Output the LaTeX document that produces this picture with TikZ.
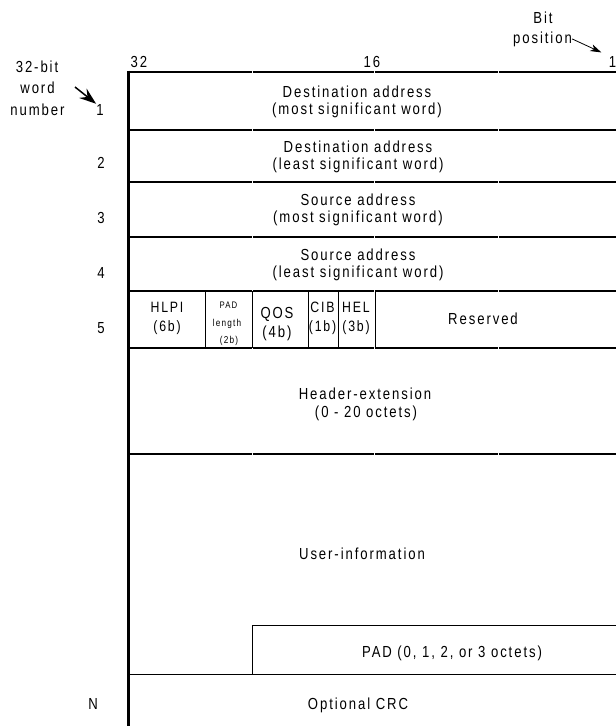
\documentclass[tikz,border=0pt]{standalone}
\usepackage{fontspec}
\setmainfont{Liberation Sans}[FakeStretch=0.82,LetterSpace=12]
\usetikzlibrary{arrows.meta}
\newcommand\fsz[1]{\fontsize{#1}{#1}\selectfont}
\begin{document}
\begin{tikzpicture}[x=1pt,y=-1pt,
  lbl/.style={inner sep=0pt, anchor=base, font=\fsz{16}},
  hl/.style={line width=2pt},
  thinl/.style={line width=1pt},
  vl/.style={line width=3pt}]
\useasboundingbox (0,0) rectangle (616,726);
% frame lines
\foreach \yy in {72,130,182,237,291,348,454}{
  \draw[hl] (127,\yy) -- (251.5,\yy) (252.5,\yy) -- (373.5,\yy)
            (374.5,\yy) -- (497.5,\yy) (498.5,\yy) -- (616,\yy);
}
\draw[vl] (128,70.5) -- (128,726);
% row 5 separators
\foreach \xx in {205,252,308,338,375}{
  \draw[thinl] (\xx,291) -- (\xx,348);
}
% PAD box
\draw[thinl] (252,674) -- (252,625) -- (616,625);
\draw[thinl] (128,674) -- (616,674);

% bit positions
\node[lbl] (b32) at (139,67) {32};
\node[lbl] (b16) at (372,67) {16};
\node[lbl] (b1) at (612.5,67) {1};
\node[lbl] (bit) at (543,23) {Bit};
\node[lbl] (pos) at (542.5,43) {position};
\draw[-{Stealth[length=11pt,width=7pt,inset=3pt]}, line width=0.8pt, shorten >=8pt] (pos.east) -- (b1.north west);

% word number labels
\node[lbl] (w1) at (37,72) {32-bit};
\node[lbl] (w2) at (37.5,93) {word};
\node[lbl] (w3) at (37.5,115) {number};
\node[lbl] (r1) at (100,115) {1};
\node[lbl] (r2) at (101,168) {2};
\node[lbl] (r3) at (101,223) {3};
\node[lbl] (r4) at (101,278) {4};
\node[lbl] (r5) at (101,333) {5};
\node[lbl] (rN) at (93,709) {N};
\coordinate (wtail) at (75,87);
\draw[-{Stealth[length=17pt,width=12pt,inset=6pt]}, line width=1.5pt] (wtail) -- (r1.north west);

% rows 1-4
\node[lbl] (d1a) at (357,97) {Destination address};
\node[lbl] (d1b) at (357,114) {(most significant word)};
\node[lbl] (d2a) at (358,152) {Destination address};
\node[lbl] (d2b) at (358,169) {(least significant word)};
\node[lbl] (s1a) at (358,205.5) {Source address};
\node[lbl] (s1b) at (358,222.5) {(most significant word)};
\node[lbl] (s2a) at (358,260) {Source address};
\node[lbl] (s2b) at (358,277) {(least significant word)};

% row 5
\node[lbl, font=\fsz{15}] (hlpi) at (167,312) {HLPI};
\node[lbl, font=\fsz{15}] (hlpib) at (167,331) {(6b)};
\node[lbl, font=\fsz{9.5}] (pad) at (228.5,308) {PAD};
\node[lbl, font=\fsz{10}] (padl) at (227,326) {length};
\node[lbl, font=\fsz{10}] (padb) at (229,343) {(2b)};
\node[lbl] (qos) at (277,318) {QOS};
\node[lbl] (qosb) at (277,337) {(4b)};
\node[lbl, font=\fsz{15}] (cib) at (322.5,312) {CIB};
\node[lbl, font=\fsz{15}] (cibb) at (322.5,331) {(1b)};
\node[lbl, font=\fsz{15}] (hel) at (356,312) {HEL};
\node[lbl, font=\fsz{15}] (helb) at (356,331) {(3b)};
\node[lbl] (res) at (483,324) {Reserved};

% remaining fields
\node[lbl] (hx1) at (365,399) {Header-extension};
\node[lbl] (hx2) at (366,417) {(0 - 20 octets)};
\node[lbl] (ui) at (362,559) {User-information};
\node[lbl] (padt) at (452,657) {PAD (0, 1, 2, or 3 octets)};
\node[lbl] (crc) at (358,709) {Optional CRC};
\end{tikzpicture}
\end{document}
